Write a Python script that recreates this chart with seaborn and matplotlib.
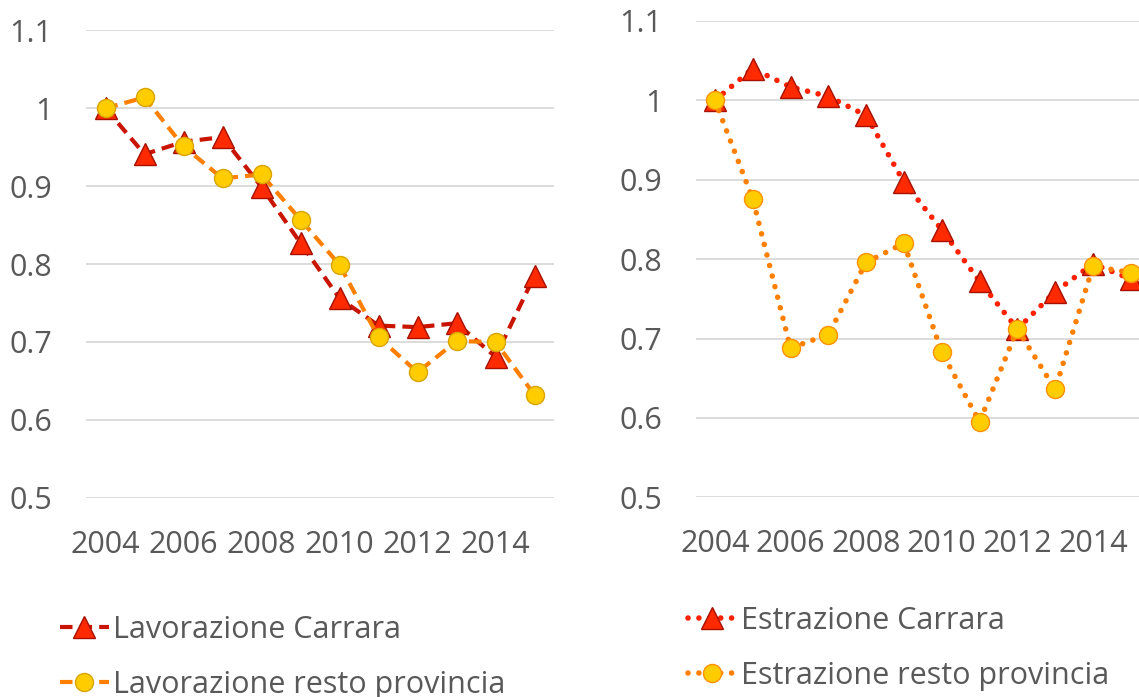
import matplotlib
matplotlib.use("Agg")
import matplotlib.pyplot as plt
import seaborn as sns
import pandas as pd

years = list(range(2004, 2016))
lav_carrara = [1.000, 0.941, 0.957, 0.963, 0.899, 0.827, 0.756, 0.721, 0.719, 0.724, 0.681, 0.785]
lav_resto = [1.000, 1.014, 0.951, 0.910, 0.915, 0.857, 0.799, 0.706, 0.661, 0.701, 0.700, 0.632]
est_carrara = [1.000, 1.040, 1.017, 1.005, 0.981, 0.897, 0.837, 0.772, 0.712, 0.759, 0.794, 0.775]
est_resto = [1.000, 0.876, 0.688, 0.705, 0.796, 0.820, 0.683, 0.595, 0.712, 0.636, 0.791, 0.783]
xtick_years = [2004, 2006, 2008, 2010, 2012, 2014]
ytick_vals = [0.5, 0.6, 0.7, 0.8, 0.9, 1.0, 1.1]
ytick_labels = ["0.5", "0.6", "0.7", "0.8", "0.9", "1", "1.1"]

sns.set_theme(style="white")
plt.rcParams["font.family"] = ["Open Sans", "DejaVu Sans"]

W, H = 1139, 697
fig = plt.figure(figsize=(W / 100, H / 100), dpi=100)
axL = fig.add_axes([86 / W, 199.3 / H, (554 - 86) / W, (666.6 - 199.3) / H])
axR = fig.add_axes([696 / W, 199.7 / H, (1149.7 - 696) / W, (676 - 199.7) / H])

TXT = "#595959"
FS = 22

tri_face, tri_edge = "#FF2A00", "#A51000"
circ_face = "#FFCC00"

dfL = pd.DataFrame({"year": years, "carrara": lav_carrara, "resto": lav_resto})
dfR = pd.DataFrame({"year": years, "carrara": est_carrara, "resto": est_resto})

sns.lineplot(data=dfL, x="year", y="carrara", ax=axL, color="#C81400", lw=3.0,
             linestyle=(0, (3, 1.7)), marker="^", markersize=15.5,
             markerfacecolor=tri_face, markeredgecolor=tri_edge, markeredgewidth=1,
             label="Lavorazione Carrara", zorder=3)
sns.lineplot(data=dfL, x="year", y="resto", ax=axL, color="#FF8000", lw=3.0,
             linestyle=(0, (3, 1.7)), marker="o", markersize=13,
             markerfacecolor=circ_face, markeredgecolor="#D9A400", markeredgewidth=1,
             label="Lavorazione resto provincia", zorder=4)

sns.lineplot(data=dfR, x="year", y="carrara", ax=axR, color="#FF2000", lw=4.0,
             linestyle=(0, (0.01, 1.95)), dash_capstyle="round", marker="^", markersize=15.5,
             markerfacecolor=tri_face, markeredgecolor=tri_edge, markeredgewidth=1,
             label="Estrazione Carrara", zorder=3)
sns.lineplot(data=dfR, x="year", y="resto", ax=axR, color="#FF8000", lw=4.0,
             linestyle=(0, (0.01, 1.95)), dash_capstyle="round", marker="o", markersize=13,
             markerfacecolor=circ_face, markeredgecolor="#FF9000", markeredgewidth=1,
             label="Estrazione resto provincia", zorder=4)

for ax in (axL, axR):
    ax.set_xlim(2003.5, 2015.5)
    ax.set_ylim(0.5, 1.1)
    ax.set_xticks(xtick_years)
    ax.set_xticklabels([str(y) for y in xtick_years])
    ax.set_yticks(ytick_vals)
    ax.set_yticklabels(ytick_labels)
    ax.set_xlabel("")
    ax.set_ylabel("")
    for s in ax.spines.values():
        s.set_visible(False)
    ax.grid(axis="y", color="#D9D9D9", lw=1.3)
    ax.grid(axis="x", visible=False)
    ax.set_axisbelow(True)
    ax.tick_params(axis="both", length=0, labelsize=FS, labelcolor=TXT)
    ax.tick_params(axis="y", pad=24)
    ax.tick_params(axis="x", pad=23)
    ax.get_legend().remove()

hL, lL = axL.get_legend_handles_labels()
hR, lR = axR.get_legend_handles_labels()

legL = fig.legend(hL, lL, loc="upper left", bbox_to_anchor=(60 / W, 1 - 615 / H),
                  frameon=False, fontsize=FS, labelcolor=TXT, handlelength=1.6,
                  handletextpad=0.12, labelspacing=0.82, borderpad=0, borderaxespad=0)
legR = fig.legend(hR, lR, loc="upper left", bbox_to_anchor=(688 / W, 1 - 606 / H),
                  frameon=False, fontsize=FS, labelcolor=TXT, handlelength=1.6,
                  handletextpad=0.12, labelspacing=0.82, borderpad=0, borderaxespad=0)

fig.savefig("out.png", dpi=100)
